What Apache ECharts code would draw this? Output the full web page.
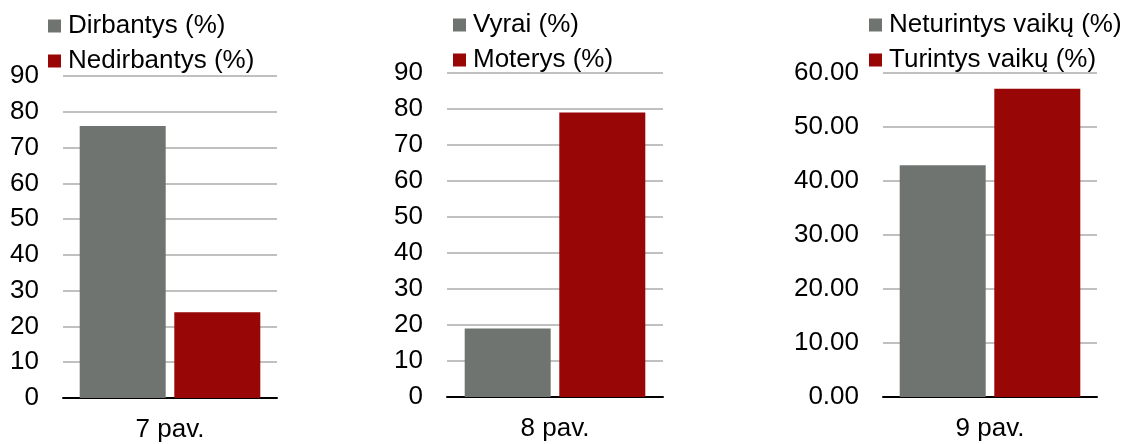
<!DOCTYPE html>
<html>
<head>
<meta charset="utf-8">
<script src="https://cdn.jsdelivr.net/npm/echarts@6/dist/echarts.min.js"></script>
<style>
html,body{margin:0;padding:0;background:#fff;}
#c{width:1129px;height:444px;}
</style>
</head>
<body>
<div id="c"></div>
<script>
const categories = ['7 pav.', '8 pav.', '9 pav.'];
const names1 = ['Dirbantys (%)', 'Nedirbantys (%)'];
const names2 = ['Vyrai (%)', 'Moterys (%)'];
const names3 = ['Neturintys vaikų (%)', 'Turintys vaikų (%)'];
const values1 = [76, 24];
const values2 = [19, 79];
const values3 = [42.9, 57.1];
const yMax = [90, 90, 60];
const yDecimals = [0, 0, 2];

const colors = ['#6f7471', '#980606'];
const font = 'Liberation Sans, Arial, sans-serif';
const names = [names1, names2, names3];
const values = [values1, values2, values3];

const grids = [
  {left: 63, top: 76, width: 214, height: 322},
  {left: 447, top: 73, width: 216, height: 324},
  {left: 883, top: 73, width: 214, height: 324}
];
const legendLeft = [48, 453, 869];
const legendTop = [13, 12, 12];

const option = {
  animation: false,
  backgroundColor: '#fff',
  grid: grids,
  legend: names.map((n, i) => ({
    data: n,
    orient: 'vertical',
    left: legendLeft[i],
    top: legendTop[i],
    padding: 0,
    itemWidth: 13,
    itemHeight: 13,
    itemGap: 9,
    icon: 'rect',
    selectedMode: false,
    textStyle: {fontFamily: font, fontSize: 26, color: '#000', padding: [0, 0, 0, 2]}
  })),
  xAxis: categories.map((c, i) => ({
    type: 'category',
    gridIndex: i,
    data: [c],
    axisLine: {show: true, lineStyle: {color: '#000', width: 2}},
    axisTick: {show: false},
    axisLabel: {fontFamily: font, fontSize: 26, color: '#000', margin: 19}
  })),
  yAxis: yMax.map((m, i) => ({
    type: 'value',
    gridIndex: i,
    min: 0,
    max: m,
    interval: 10,
    axisLine: {show: false},
    axisTick: {show: false},
    splitLine: {lineStyle: {color: '#c0c0c0', width: 2}},
    axisLabel: {
      fontFamily: font, fontSize: 26, color: '#000', margin: 24,
      formatter: v => v.toFixed(yDecimals[i])
    }
  })),
  series: []
};
names.forEach((n, i) => {
  n.forEach((name, j) => {
    option.series.push({
      type: 'bar',
      name: name,
      xAxisIndex: i,
      yAxisIndex: i,
      data: [values[i][j]],
      barWidth: 86,
      barGap: '10%',
      itemStyle: {color: colors[j]}
    });
  });
});

const chart = echarts.init(document.getElementById('c'), null, {renderer: 'canvas'});
chart.setOption(option);
</script>
</body>
</html>
